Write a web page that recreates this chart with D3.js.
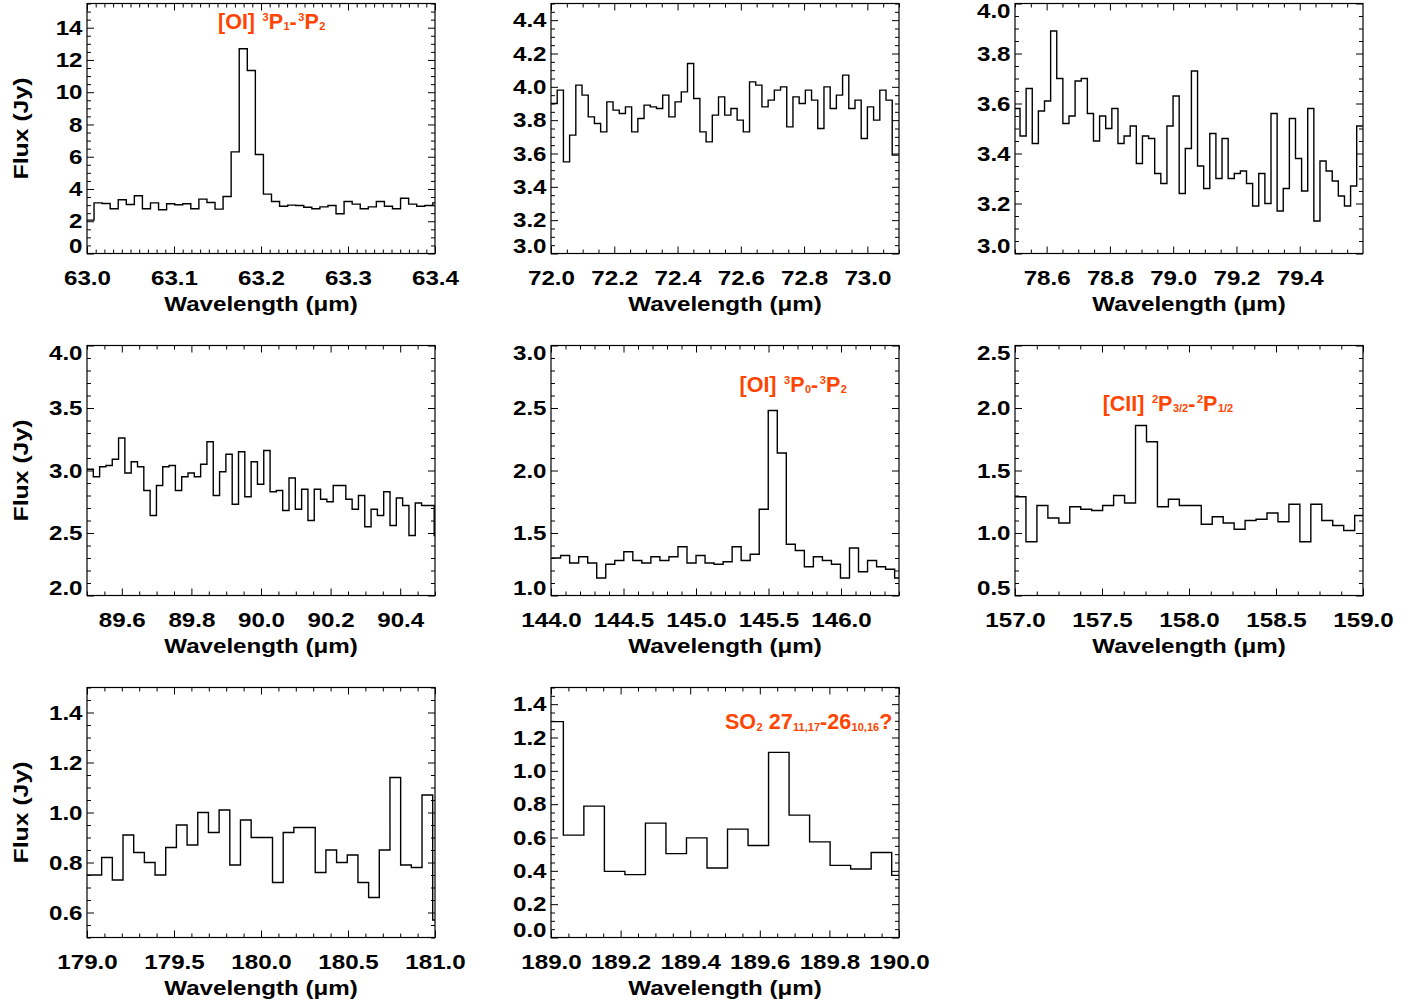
<!DOCTYPE html>
<html><head><meta charset="utf-8">
<script src="https://cdn.jsdelivr.net/npm/d3@7"></script>
<style>
html,body{margin:0;padding:0;background:#fff;}
svg{display:block;}
text{font-family:"Liberation Sans",Arial,Helvetica,sans-serif;font-weight:bold;}
</style></head><body>
<svg id="chart" width="1428" height="1002"></svg>
<script>
// ---------------- DATA ----------------
// [OI] 63 micron
const oi63Start = 62.9988, oi63Step = 0.009272;
const oi63Flux = [2.07,3.14,3.10,2.77,3.33,3.04,3.58,2.77,3.14,2.71,3.08,3.02,3.08,2.77,3.37,3.16,2.75,3.53,6.30,12.69,11.35,6.14,3.68,3.22,2.93,3.00,2.98,2.87,2.77,2.89,2.98,2.46,3.22,3.06,2.77,2.89,3.22,2.93,2.77,3.43,3.06,2.93,2.98,3.14];
const oi63XTicks = [63.0,63.1,63.2,63.3,63.4];
const oi63YTicks = [0,2,4,6,8,10,12,14];
const oi63Label = [["[OI] ","n"],["3","sup"],["P","n"],["1","sub"],["-","n"],["3","sup"],["P","n"],["2","sub"]];
const oi63LabelAt = [63.1506, 13.92];

// 72 micron
const s72Start = 72.0, s72Step = 0.01961;
const s72Flux = [3.90,3.98,3.55,3.71,4.01,3.95,3.82,3.78,3.73,3.91,3.86,3.84,3.88,3.73,3.81,3.89,3.88,3.87,3.95,3.82,3.91,3.97,4.14,3.93,3.73,3.67,3.83,3.94,3.83,3.87,3.80,3.73,4.03,4.01,3.88,3.92,3.98,4.00,3.76,3.94,3.90,3.98,3.92,3.75,4.00,3.87,3.95,4.07,3.87,3.92,3.69,3.88,3.80,3.98,3.92,3.59];
const s72XTicks = [72.0,72.2,72.4,72.6,72.8,73.0];
const s72YTicks = [3.0,3.2,3.4,3.6,3.8,4.0,4.2,4.4];

// 79 micron
const s79Start = 78.4965, s79Step = 0.01935;
const s79Flux = [3.58,3.47,3.66,3.44,3.57,3.61,3.89,3.70,3.52,3.55,3.69,3.70,3.56,3.45,3.55,3.50,3.58,3.44,3.47,3.51,3.36,3.47,3.46,3.32,3.28,3.51,3.63,3.24,3.42,3.73,3.35,3.26,3.48,3.30,3.46,3.30,3.32,3.33,3.28,3.19,3.32,3.20,3.56,3.17,3.26,3.54,3.38,3.25,3.58,3.13,3.37,3.33,3.29,3.23,3.19,3.27,3.51];
const s79XTicks = [78.6,78.8,79.0,79.2,79.4];
const s79YTicks = [3.0,3.2,3.4,3.6,3.8,4.0];

// 90 micron
const s90Start = 89.5, s90Step = 0.01814;
const s90Flux = [3.01,2.95,3.03,3.04,3.09,3.26,2.98,3.07,3.03,2.84,2.64,2.88,3.03,3.04,2.84,2.95,2.98,2.95,3.05,3.23,2.80,2.99,3.13,2.73,3.15,2.79,3.07,2.89,3.16,2.83,2.84,2.68,2.94,2.69,2.85,2.60,2.85,2.77,2.75,2.88,2.88,2.77,2.69,2.80,2.55,2.69,2.64,2.83,2.56,2.78,2.72,2.48,2.74,2.72,2.72,2.48];
const s90XTicks = [89.6,89.8,90.0,90.2,90.4];
const s90YTicks = [2.0,2.5,3.0,3.5,4.0];

// [OI] 145 micron
const oi145Start = 144.004, oi145Step = 0.06226;
const oi145Flux = [1.30,1.32,1.26,1.31,1.26,1.14,1.25,1.28,1.35,1.28,1.26,1.31,1.28,1.31,1.39,1.26,1.32,1.26,1.25,1.27,1.39,1.28,1.33,1.69,2.48,2.14,1.41,1.36,1.23,1.31,1.28,1.25,1.14,1.38,1.19,1.28,1.23,1.21,1.14];
const oi145XTicks = [144.0,144.5,145.0,145.5,146.0];
const oi145YTicks = [1.0,1.5,2.0,2.5,3.0];
const oi145Label = [["[OI] ","n"],["3","sup"],["P","n"],["0","sub"],["-","n"],["3","sup"],["P","n"],["2","sub"]];
const oi145LabelAt = [145.30, 2.63];

// [CII] 158 micron
const cii158Start = 157.0, cii158Step = 0.06297;
const cii158Flux = [1.29,0.93,1.22,1.12,1.08,1.21,1.19,1.18,1.22,1.30,1.24,1.86,1.73,1.21,1.27,1.22,1.22,1.07,1.13,1.08,1.03,1.10,1.11,1.16,1.09,1.23,0.93,1.23,1.10,1.06,1.02,1.14];
const cii158XTicks = [157.0,157.5,158.0,158.5,159.0];
const cii158YTicks = [0.5,1.0,1.5,2.0,2.5];
const cii158Label = [["[CII] ","n"],["2","sup"],["P","n"],["3/2","sub"],["-","n"],["2","sup"],["P","n"],["1/2","sub"]];
const cii158LabelAt = [157.504, 1.978];

// 180 micron
const s180Start = 178.9615, s180Step = 0.06137;
const s180Flux = [0.75,0.75,0.82,0.73,0.91,0.84,0.80,0.75,0.86,0.95,0.87,1.00,0.92,1.01,0.79,0.97,0.90,0.90,0.72,0.92,0.94,0.94,0.76,0.85,0.80,0.83,0.72,0.66,0.85,1.14,0.79,0.78,1.07,0.57];
const s180XTicks = [179.0,179.5,180.0,180.5,181.0];
const s180YTicks = [0.6,0.8,1.0,1.2,1.4];

// SO2 189 micron
const so2Start = 188.9765, so2Step = 0.05897;
const so2Flux = [1.295,0.614,0.788,0.397,0.377,0.686,0.503,0.598,0.417,0.650,0.552,1.111,0.734,0.574,0.433,0.411,0.510,0.373];
const so2XTicks = [189.0,189.2,189.4,189.6,189.8,190.0];
const so2YTicks = [0.0,0.2,0.4,0.6,0.8,1.0,1.2,1.4];
const so2Label = [["SO","n"],["2","sub"],[" 27","n"],["11,17","sub"],["-26","n"],["10,16","sub"],["?","n"]];
const so2LabelAt = [189.5, 1.251];

const xTitle = "Wavelength (\u03bcm)";
const yTitle = "Flux (Jy)";

// ---------------- LAYOUT ----------------
const W = 348, H = 250;
const colX = [87, 551, 1015];
const rowY = [3.5, 345.5, 687.5];
const labelColor = "#ff4500";
const stretch = 1.15;

const panels = [
  {start:oi63Start, step:oi63Step, flux:oi63Flux, xDomain:[63.0,63.4], yDomain:[0,15.5], xTicks:oi63XTicks, yTicks:oi63YTicks, xMinor:10, yMinor:4, yFmt:"d", label:oi63Label, labelAt:oi63LabelAt, col:0, row:0},
  {start:s72Start, step:s72Step, flux:s72Flux, xDomain:[72.0,73.1], yDomain:[3.0,4.5], xTicks:s72XTicks, yTicks:s72YTicks, xMinor:4, yMinor:4, yFmt:".1f", col:1, row:0},
  {start:s79Start, step:s79Step, flux:s79Flux, xDomain:[78.5,79.6], yDomain:[3.0,4.0], xTicks:s79XTicks, yTicks:s79YTicks, xMinor:4, yMinor:4, yFmt:".1f", col:2, row:0},
  {start:s90Start, step:s90Step, flux:s90Flux, xDomain:[89.5,90.5], yDomain:[2.0,4.0], xTicks:s90XTicks, yTicks:s90YTicks, xMinor:4, yMinor:5, yFmt:".1f", col:0, row:1},
  {start:oi145Start, step:oi145Step, flux:oi145Flux, xDomain:[144.0,146.4], yDomain:[1.0,3.0], xTicks:oi145XTicks, yTicks:oi145YTicks, xMinor:5, yMinor:5, yFmt:".1f", label:oi145Label, labelAt:oi145LabelAt, col:1, row:1},
  {start:cii158Start, step:cii158Step, flux:cii158Flux, xDomain:[157.0,159.0], yDomain:[0.5,2.5], xTicks:cii158XTicks, yTicks:cii158YTicks, xMinor:4, yMinor:5, yFmt:".1f", label:cii158Label, labelAt:cii158LabelAt, col:2, row:1},
  {start:s180Start, step:s180Step, flux:s180Flux, xDomain:[179.0,181.0], yDomain:[0.5,1.5], xTicks:s180XTicks, yTicks:s180YTicks, xMinor:5, yMinor:4, yFmt:".1f", col:0, row:2},
  {start:so2Start, step:so2Step, flux:so2Flux, xDomain:[189.0,190.0], yDomain:[0.0,1.5], xTicks:so2XTicks, yTicks:so2YTicks, xMinor:4, yMinor:4, yFmt:".1f", label:so2Label, labelAt:so2LabelAt, col:1, row:2}
];

function minorTicks(majors, n, dom) {
  const st = (majors[1] - majors[0]) / n;
  const k0 = Math.ceil((dom[0] - majors[0]) / st - 1e-6);
  const k1 = Math.floor((dom[1] - majors[0]) / st + 1e-6);
  const out = [];
  for (let k = k0; k <= k1; k++) {
    if (((k % n) + n) % n !== 0) out.push(majors[0] + k * st);
  }
  return out;
}

const svg = d3.select("#chart");
const defs = svg.append("defs");

function styleAxis(g) {
  g.select(".domain").remove();
  g.attr("font-family", null).attr("font-size", null);
  g.selectAll(".tick line").attr("stroke", "#000").attr("stroke-width", 1);
  g.selectAll(".tick text").attr("fill", "#000").style("font-size", "21px");
}

panels.forEach((p, i) => {
  const ox = colX[p.col], oy = rowY[p.row];
  const g = svg.append("g").attr("transform", `translate(${ox},${oy})`);
  const x = d3.scaleLinear().domain(p.xDomain).range([0, W]);
  const y = d3.scaleLinear().domain(p.yDomain).range([H, 0]);

  defs.append("clipPath").attr("id", "clip" + i)
    .append("rect").attr("width", W).attr("height", H);

  // step spectrum
  const pts = p.flux.map((f, k) => ({w: p.start + k * p.step, f}));
  pts.push({w: p.start + p.flux.length * p.step, f: p.flux[p.flux.length - 1]});
  const line = d3.line().x(d => x(d.w)).y(d => y(d.f)).curve(d3.curveStepAfter);
  g.append("path").attr("clip-path", `url(#clip${i})`)
    .attr("d", line(pts)).attr("fill", "none").attr("stroke", "#000")
    .attr("stroke-width", 1.4).attr("stroke-linejoin", "miter");

  const xMin = minorTicks(p.xTicks, p.xMinor, p.xDomain);
  const yMin = minorTicks(p.yTicks, p.yMinor, p.yDomain);

  // minor ticks, all four sides
  g.append("g").attr("transform", `translate(0,${H})`)
    .call(d3.axisBottom(x).tickValues(xMin).tickSize(-4).tickFormat("")).call(styleAxis);
  g.append("g")
    .call(d3.axisTop(x).tickValues(xMin).tickSize(-4).tickFormat("")).call(styleAxis);
  g.append("g")
    .call(d3.axisLeft(y).tickValues(yMin).tickSize(-4).tickFormat("")).call(styleAxis);
  g.append("g").attr("transform", `translate(${W},0)`)
    .call(d3.axisRight(y).tickValues(yMin).tickSize(-4).tickFormat("")).call(styleAxis);

  // major ticks
  const xl = g.append("g").attr("transform", `translate(0,${H})`)
    .call(d3.axisBottom(x).tickValues(p.xTicks).tickSize(-7).tickPadding(16.5).tickFormat(d3.format(".1f")))
    .call(styleAxis);
  xl.selectAll(".tick text").attr("transform", `scale(${stretch},1)`);
  g.append("g")
    .call(d3.axisTop(x).tickValues(p.xTicks).tickSize(-7).tickFormat("")).call(styleAxis);
  const yl = g.append("g")
    .call(d3.axisLeft(y).tickValues(p.yTicks).tickSize(-7).tickPadding(4.5).tickFormat(d3.format(p.yFmt)))
    .call(styleAxis);
  yl.selectAll(".tick text")
    .attr("x", -4.5 / stretch)
    .attr("transform", `scale(${stretch},1)`)
    .attr("y", d => {
      const py = y(d);
      const cy = Math.max(7, Math.min(H - 8, py));
      return cy - py;
    });
  g.append("g").attr("transform", `translate(${W},0)`)
    .call(d3.axisRight(y).tickValues(p.yTicks).tickSize(-7).tickFormat("")).call(styleAxis);

  // frame
  g.append("rect").attr("width", W).attr("height", H)
    .attr("fill", "none").attr("stroke", "#000").attr("stroke-width", 1.2);

  // x title
  g.append("text").attr("transform", `translate(${W / 2},${H + 57}) scale(${stretch},1)`)
    .attr("text-anchor", "middle").style("font-size", "21px")
    .attr("fill", "#000").text(xTitle);

  // y title (left column)
  if (p.col === 0) {
    svg.append("text").attr("transform", `translate(28,${oy + H / 2}) rotate(-90) scale(1.18,1)`)
      .attr("text-anchor", "middle").style("font-size", "21px")
      .attr("fill", "#000").text(yTitle);
  }

  // line annotation
  if (p.label) {
    const t = g.append("text").attr("x", x(p.labelAt[0])).attr("y", y(p.labelAt[1]))
      .attr("fill", labelColor).style("font-size", "21.5px");
    let cur = 0;
    p.label.forEach(([s, kind]) => {
      const target = kind === "sup" ? -8 : kind === "sub" ? 1.5 : 0;
      const ts = t.append("tspan").attr("dy", target - cur).text(s);
      if (kind !== "n") ts.style("font-size", "11px");
      if (kind === "sup") ts.attr("dx", 1.5);
      if (kind === "sub") ts.attr("dx", 0.5);
      cur = target;
    });
  }
});
</script>
</body></html>
